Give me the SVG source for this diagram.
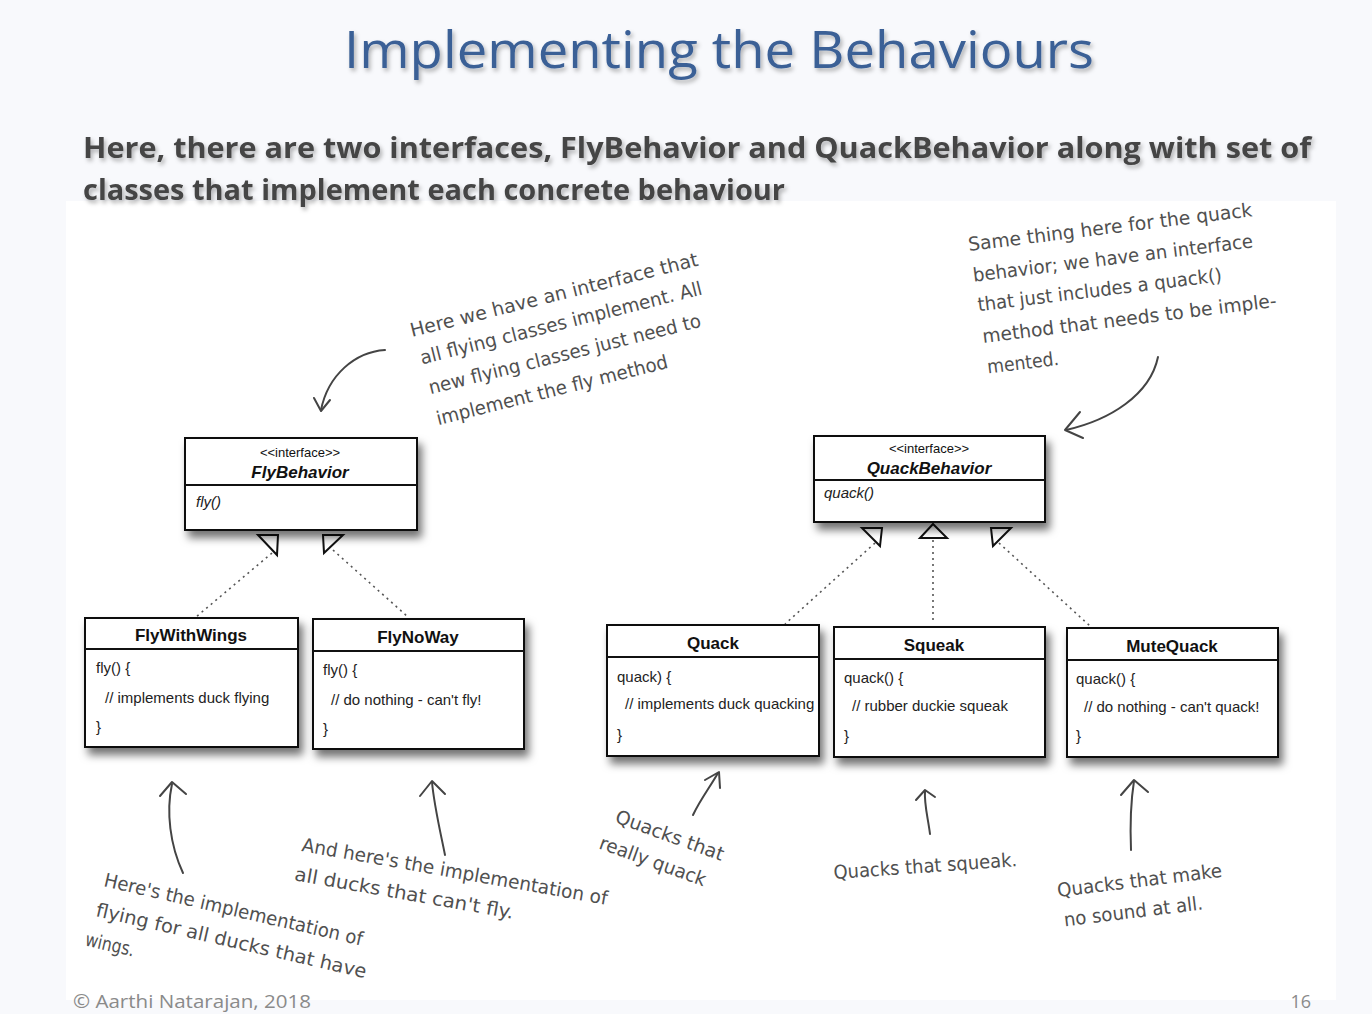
<svg xmlns="http://www.w3.org/2000/svg" width="1372" height="1014" viewBox="0 0 1372 1014">
<defs>
<style>
.title{font-family:"Open Sans","Liberation Sans",sans-serif;font-size:52px;fill:#3b6096}
.sub{font-family:"Open Sans","Liberation Sans",sans-serif;font-size:29px;font-weight:bold;fill:#454545}
.foot{font-family:"Open Sans","Liberation Sans",sans-serif;font-size:18px;fill:#8a8a8a}
.box{fill:#fff;stroke:#111;stroke-width:2}
.sep{stroke:#111;stroke-width:2}
.cname{font-family:"Liberation Sans",Arial,sans-serif;font-size:17px;font-weight:bold;fill:#111;text-anchor:middle}
.stereo{font-family:"Liberation Sans",Arial,sans-serif;font-size:13px;fill:#111;text-anchor:middle}
.iname{font-family:"Liberation Sans",Arial,sans-serif;font-size:17px;font-weight:bold;font-style:italic;fill:#111;text-anchor:middle}
.meth{font-family:"Liberation Sans",Arial,sans-serif;font-size:15px;fill:#222}
.imeth{font-family:"Liberation Sans",Arial,sans-serif;font-size:15px;font-style:italic;fill:#222}
.hand{font-family:"DejaVu Sans","Liberation Sans",sans-serif;font-size:19px;fill:#505050}
.dot{stroke:#555;stroke-width:1.6;stroke-dasharray:2 4;fill:none}
.tri{fill:#fff;stroke:#111;stroke-width:2;stroke-linejoin:miter}
.pen{fill:none;stroke:#444;stroke-width:2;stroke-linecap:round;stroke-linejoin:round}
</style>
<filter id="tsh" x="-5%" y="-20%" width="110%" height="160%">
<feDropShadow dx="2" dy="3" stdDeviation="2" flood-color="#000" flood-opacity="0.3"/>
</filter>
<filter id="bsh" x="-10%" y="-10%" width="125%" height="135%">
<feDropShadow dx="4" dy="7" stdDeviation="4" flood-color="#000" flood-opacity="0.55"/>
</filter>
</defs>

<rect x="0" y="0" width="1372" height="1014" fill="#f8f9fc"/>
<rect x="66" y="201" width="1270" height="799" fill="#ffffff"/>

<g id="title" filter="url(#tsh)">
<text class="title" x="719" y="68" text-anchor="middle" textLength="750" lengthAdjust="spacingAndGlyphs">Implementing the Behaviours</text>
<text class="sub" x="83" y="158" textLength="1228" lengthAdjust="spacingAndGlyphs">Here, there are two interfaces, FlyBehavior and QuackBehavior along with set of</text>
<text class="sub" x="83" y="200" textLength="702" lengthAdjust="spacingAndGlyphs">classes that implement each concrete behaviour</text>
</g>

<g id="connectors">
<line class="dot" x1="272" y1="553" x2="196" y2="617"/>
<line class="dot" x1="333" y1="550" x2="408" y2="617"/>
<polygon class="tri" points="258,535 278,535 277,555"/>
<polygon class="tri" points="323,535 343,535 324,553"/>
<line class="dot" x1="875" y1="543" x2="785" y2="624"/>
<line class="dot" x1="933" y1="540" x2="933" y2="623"/>
<line class="dot" x1="999" y1="543" x2="1090" y2="626"/>
<polygon class="tri" points="862,528 882,528 880,546"/>
<polygon class="tri" points="920,538 947,538 933,524"/>
<polygon class="tri" points="991,528 1011,528 993,546"/>
</g>

<g id="FlyBehavior">
<rect class="box" x="185" y="438" width="232" height="92" filter="url(#bsh)"/>
<line class="sep" x1="185" y1="485" x2="417" y2="485"/>
<text class="stereo" x="300" y="457">&lt;&lt;interface&gt;&gt;</text>
<text class="iname" x="300" y="478">FlyBehavior</text>
<text class="imeth" x="196" y="507">fly()</text>
</g>

<g id="QuackBehavior">
<rect class="box" x="814" y="436" width="231" height="86" filter="url(#bsh)"/>
<line class="sep" x1="814" y1="480" x2="1045" y2="480"/>
<text class="stereo" x="929" y="453">&lt;&lt;interface&gt;&gt;</text>
<text class="iname" x="929" y="474">QuackBehavior</text>
<text class="imeth" x="824" y="498">quack()</text>
</g>

<g id="FlyWithWings">
<rect class="box" x="85" y="618" width="213" height="129" filter="url(#bsh)"/>
<line class="sep" x1="85" y1="649" x2="298" y2="649"/>
<text class="cname" x="191" y="641">FlyWithWings</text>
<text class="meth" x="96" y="673">fly() {</text>
<text class="meth" x="105" y="703">// implements duck flying</text>
<text class="meth" x="96" y="732">}</text>
</g>

<g id="FlyNoWay">
<rect class="box" x="313" y="619" width="211" height="130" filter="url(#bsh)"/>
<line class="sep" x1="313" y1="651" x2="524" y2="651"/>
<text class="cname" x="418" y="643">FlyNoWay</text>
<text class="meth" x="323" y="675">fly() {</text>
<text class="meth" x="331" y="705">// do nothing - can't fly!</text>
<text class="meth" x="323" y="734">}</text>
</g>

<g id="Quack">
<rect class="box" x="607" y="625" width="212" height="131" filter="url(#bsh)"/>
<line class="sep" x1="607" y1="657" x2="819" y2="657"/>
<text class="cname" x="713" y="649">Quack</text>
<text class="meth" x="617" y="682">quack) {</text>
<text class="meth" x="625" y="709">// implements duck quacking</text>
<text class="meth" x="617" y="740">}</text>
</g>

<g id="Squeak">
<rect class="box" x="834" y="627" width="211" height="130" filter="url(#bsh)"/>
<line class="sep" x1="834" y1="659" x2="1045" y2="659"/>
<text class="cname" x="934" y="651">Squeak</text>
<text class="meth" x="844" y="683">quack() {</text>
<text class="meth" x="852" y="711">// rubber duckie squeak</text>
<text class="meth" x="844" y="741">}</text>
</g>

<g id="MuteQuack">
<rect class="box" x="1067" y="628" width="211" height="129" filter="url(#bsh)"/>
<line class="sep" x1="1067" y1="660" x2="1278" y2="660"/>
<text class="cname" x="1172" y="652">MuteQuack</text>
<text class="meth" x="1076" y="684">quack() {</text>
<text class="meth" x="1084" y="712">// do nothing - can't quack!</text>
<text class="meth" x="1076" y="741">}</text>
</g>

<g id="note-fly">
<g transform="translate(412,337) rotate(-14)">
<text class="hand" x="0" y="0" textLength="296" lengthAdjust="spacingAndGlyphs">Here we have an interface that</text>
<text class="hand" x="3" y="29" textLength="290" lengthAdjust="spacingAndGlyphs">all flying classes implement. All</text>
<text class="hand" x="4" y="60" textLength="280" lengthAdjust="spacingAndGlyphs">new flying classes just need to</text>
<text class="hand" x="4" y="92" textLength="238" lengthAdjust="spacingAndGlyphs">implement the fly method</text>
</g>
<path class="pen" d="M385,350 C355,352 328,375 321,410"/>
<path class="pen" d="M314,398 L321,411 L330,400"/>
</g>

<g id="note-quack">
<g transform="translate(969,251) rotate(-7)">
<text class="hand" x="0" y="0" textLength="286" lengthAdjust="spacingAndGlyphs">Same thing here for the quack</text>
<text class="hand" x="1" y="31" textLength="282" lengthAdjust="spacingAndGlyphs">behavior; we have an interface</text>
<text class="hand" x="2" y="61" textLength="246" lengthAdjust="spacingAndGlyphs">that just includes a quack()</text>
<text class="hand" x="3" y="93" textLength="296" lengthAdjust="spacingAndGlyphs">method that needs to be imple-</text>
<text class="hand" x="4" y="124" textLength="72" lengthAdjust="spacingAndGlyphs">mented.</text>
</g>
<path class="pen" d="M1158,357 C1150,395 1110,420 1066,430"/>
<path class="pen" d="M1080,412 L1065,430 L1083,438"/>
</g>

<g id="note-wings">
<g transform="translate(103,886) rotate(13)">
<text class="hand" x="0" y="0" textLength="265" lengthAdjust="spacingAndGlyphs">Here's the implementation of</text>
<text class="hand" x="-1" y="31" textLength="277" lengthAdjust="spacingAndGlyphs">flying for all ducks that have</text>
<text class="hand" x="-5" y="62" textLength="50" lengthAdjust="spacingAndGlyphs">wings.</text>
</g>
<path class="pen" d="M183,873 C170,845 166,812 172,784"/>
<path class="pen" d="M160,796 L172,782 L186,794"/>
</g>

<g id="note-noway">
<g transform="translate(301,851) rotate(10)">
<text class="hand" x="0" y="0" textLength="310" lengthAdjust="spacingAndGlyphs">And here's the implementation of</text>
<text class="hand" x="-2" y="30" textLength="222" lengthAdjust="spacingAndGlyphs">all ducks that can't fly.</text>
</g>
<path class="pen" d="M445,855 C440,830 434,805 432,782"/>
<path class="pen" d="M420,796 L432,781 L445,794"/>
</g>

<g id="note-quackreal">
<g transform="translate(614,822) rotate(20)">
<text class="hand" x="0" y="0" textLength="114" lengthAdjust="spacingAndGlyphs">Quacks that</text>
<text class="hand" x="-6" y="30" textLength="112" lengthAdjust="spacingAndGlyphs">really quack</text>
</g>
<path class="pen" d="M693,815 C700,800 710,787 718,773"/>
<path class="pen" d="M705,780 L719,772 L720,788"/>
</g>

<g id="note-squeak">
<text class="hand" transform="translate(834,879) rotate(-4)" x="0" y="0" textLength="184" lengthAdjust="spacingAndGlyphs">Quacks that squeak.</text>
<path class="pen" d="M930,834 C928,818 924,804 925,791"/>
<path class="pen" d="M916,800 L925,790 L935,797"/>
</g>

<g id="note-mute">
<g transform="translate(1058,897) rotate(-7)">
<text class="hand" x="0" y="0" textLength="166" lengthAdjust="spacingAndGlyphs">Quacks that make</text>
<text class="hand" x="3" y="30" textLength="140" lengthAdjust="spacingAndGlyphs">no sound at all.</text>
</g>
<path class="pen" d="M1131,850 C1130,825 1131,800 1134,781"/>
<path class="pen" d="M1121,795 L1134,780 L1148,792"/>
</g>

<g id="footer">
<text class="foot" x="73" y="1008" textLength="238" lengthAdjust="spacingAndGlyphs">© Aarthi Natarajan, 2018</text>
<text class="foot" x="1311" y="1008" text-anchor="end">16</text>
</g>
</svg>
